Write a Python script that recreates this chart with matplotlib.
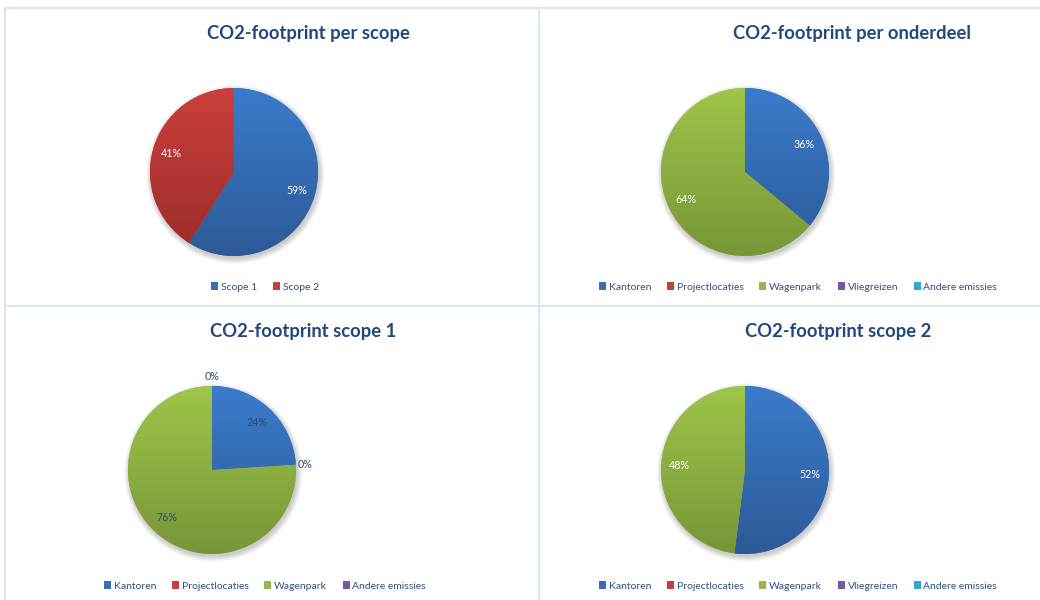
import numpy as np
import matplotlib
matplotlib.use("Agg")
import matplotlib.pyplot as plt
from matplotlib.colors import LinearSegmentedColormap
from matplotlib.patches import Circle, Patch
from matplotlib.lines import Line2D

plt.rcParams['font.family'] = ['Lato', 'DejaVu Sans']

# ---- data ----
titles = ["CO2-footprint per scope", "CO2-footprint per onderdeel",
          "CO2-footprint scope 1", "CO2-footprint scope 2"]

scope_labels = ["Scope 1", "Scope 2"]
scope_values = [59, 41]

onderdeel_labels = ["Kantoren", "Projectlocaties", "Wagenpark", "Vliegreizen", "Andere emissies"]
onderdeel_values = [36, 0, 64, 0, 0]

scope1_labels = ["Kantoren", "Projectlocaties", "Wagenpark", "Andere emissies"]
scope1_values = [24, 0, 76, 0]

scope2_labels = ["Kantoren", "Projectlocaties", "Wagenpark", "Vliegreizen", "Andere emissies"]
scope2_values = [52, 0, 48, 0, 0]

# ---- style ----
W, H = 1040, 600
TITLE_C = "#1f497d"
LEG_C = "#2f5080"
# colours by series position (light top, dark bottom) and legend swatches
grad = [("#3b7bcc", "#2d5a96"), ("#cc3f3c", "#9a2c2a"), ("#9fc54a", "#779638"),
        ("#8060a8", "#5e4780"), ("#38b0d0", "#2786a0")]
swatch = ["#3a6fb8", "#c4403b", "#94b84a", "#7a55a6", "#33a9cc"]

fig = plt.figure(figsize=(W / 100, H / 100), dpi=100)
fig.patch.set_facecolor("white")

# panel frame lines (light blue)
lc = "#dce6f2"
def fline(x0, y0, x1, y1):
    fig.add_artist(Line2D([x0 / W, x1 / W], [1 - y0 / H, 1 - y1 / H],
                          color=lc, lw=1.6, transform=fig.transFigure))
fline(5, 8, W, 8)
fline(5, 8, 5, H)
fline(5, 306, W, 306)
fline(539, 8, 539, H)

panels = [
    dict(labels=scope_labels, values=scope_values, c=(234, 172), title=(308, 33),
         leg=(265, 287), lblc="white", show_zero=False),
    dict(labels=onderdeel_labels, values=onderdeel_values, c=(745, 172), title=(852, 33),
         leg=(798, 287), lblc="white", show_zero=False),
    dict(labels=scope1_labels, values=scope1_values, c=(212, 470), title=(303, 332),
         leg=(265, 586), lblc="#2a4a78", show_zero=True),
    dict(labels=scope2_labels, values=scope2_values, c=(745, 470), title=(838, 332),
         leg=(798, 586), lblc="white", show_zero=False),
]

R = 84
yy = np.linspace(1, 0, 256).reshape(-1, 1)

for i, p in enumerate(panels):
    cx, cy = p["c"]
    n = len(p["labels"])
    ax = fig.add_axes([(cx - R) / W, (H - cy - R) / H, 2 * R / W, 2 * R / H])
    ax.set_xlim(-1, 1)
    ax.set_ylim(-1, 1)
    ax.axis("off")
    # soft shadow
    for k in range(6):
        ax.add_patch(Circle((0.015, -0.03), 1.0 + k * 0.012, color="black",
                            alpha=0.035, lw=0, clip_on=False, zorder=0))
    wedges, _ = ax.pie(p["values"], startangle=90, counterclock=False,
                       colors=swatch[:n], wedgeprops=dict(lw=0))
    for j, w in enumerate(wedges):
        w.set_zorder(1)
        cmap = LinearSegmentedColormap.from_list("g", [grad[j][1], grad[j][0]])
        im = ax.imshow(yy, cmap=cmap, extent=(-1, 1, -1, 1), aspect="auto",
                       zorder=2, vmin=0, vmax=1, interpolation="bilinear")
        im.set_clip_path(w)
    ax.set_xlim(-1, 1)
    ax.set_ylim(-1, 1)
    # data labels
    for w, v in zip(wedges, p["values"]):
        if v == 0 and not p["show_zero"]:
            continue
        mid = np.deg2rad((w.theta1 + w.theta2) / 2)
        d = 0.78 if v > 0 else 1.11
        ax.text(d * np.cos(mid), d * np.sin(mid), f"{v}%", ha="center", va="center",
                fontsize=7.7, color=p["lblc"], zorder=5, clip_on=False)
    # title
    fig.text(p["title"][0] / W, 1 - p["title"][1] / H, titles[i], ha="center", va="center",
             fontsize=13.2, fontweight="bold", color=TITLE_C)
    # legend
    handles = [Patch(facecolor=swatch[j], edgecolor="none", label=l)
               for j, l in enumerate(p["labels"])]
    fig.legend(handles=handles, loc="center",
               bbox_to_anchor=(p["leg"][0] / W, 1 - p["leg"][1] / H),
               ncol=len(handles), frameon=False, fontsize=7.5, labelcolor=LEG_C,
               handlelength=0.7, handleheight=0.7, handletextpad=0.25,
               columnspacing=1.5, borderpad=0, borderaxespad=0)

fig.savefig("out.png", dpi=100, facecolor="white")
